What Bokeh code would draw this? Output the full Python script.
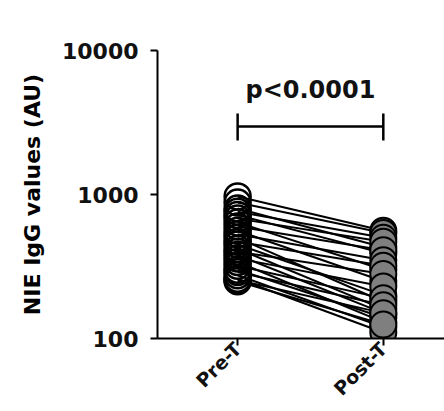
import numpy as np
from bokeh.plotting import figure
from bokeh.models import Range1d, FixedTicker, PrintfTickFormatter
from bokeh.models import Label
from bokeh.embed import file_html
from bokeh.resources import INLINE

groups = ["Pre-T", "Post-T"]
pre = [970, 880, 800, 760, 720, 680, 640, 600, 560, 530, 500, 470, 450, 420,
       400, 380, 360, 340, 320, 300, 290, 275, 260, 255, 250]
post = [560, 540, 430, 500, 390, 470, 300, 410, 250, 350, 180, 320, 200, 160,
        280, 150, 230, 130, 190, 140, 170, 120, 110, 150, 125]
y_ticks = [100, 1000, 10000]
p_text = "p<0.0001"
bracket_y = 2965
bracket_cap = (2371, 3650)
p_text_y = 4250

FONT = "DejaVu Sans"

p = figure(width=444, height=411, y_axis_type="log",
           x_range=Range1d(-0.55, 1.42), y_range=Range1d(100, 10000),
           output_backend="svg", toolbar_location=None,
           min_border_left=157, min_border_top=50, min_border_right=0,
           min_border_bottom=73)
p.outline_line_color = None
p.xgrid.visible = False
p.ygrid.visible = False
p.background_fill_color = "white"

# lines connecting pairs
xs = [[0, 1] for _ in pre]
ys = [[a, b] for a, b in zip(pre, post)]
p.multi_line(xs, ys, line_color="black", line_width=2)

p.scatter([0] * len(pre), pre, size=26, fill_color=None,
          line_color="black", line_width=2.5)
p.scatter([1] * len(post), post, size=26, fill_color="#7f7f7f",
          line_color="black", line_width=2)

# significance bracket
p.segment(x0=[0], y0=[bracket_y], x1=[1], y1=[bracket_y], line_color="black", line_width=2.5)
p.segment(x0=[0, 1], y0=[bracket_cap[0]] * 2, x1=[0, 1], y1=[bracket_cap[1]] * 2,
          line_color="black", line_width=2.5)
p.add_layout(Label(x=0.5, y=p_text_y, text=p_text, text_align="center",
                   text_baseline="bottom", text_font=FONT, text_font_style="bold",
                   text_font_size="24px", text_color="#111111"))

# axes
p.yaxis.ticker = FixedTicker(ticks=y_ticks, minor_ticks=[])
p.yaxis.formatter = PrintfTickFormatter(format="%d")
p.yaxis.axis_label = "NIE IgG values (AU)"
p.yaxis.axis_label_text_font = FONT
p.yaxis.axis_label_text_font_style = "bold"
p.yaxis.axis_label_text_font_size = "22px"
p.yaxis.axis_label_text_color = "black"
p.yaxis.axis_label_standoff = 14
p.yaxis.major_label_text_font = FONT
p.yaxis.major_label_text_font_style = "bold"
p.yaxis.major_label_text_font_size = "22px"
p.yaxis.major_label_text_color = "#111111"
p.yaxis.major_label_standoff = 12

p.xaxis.ticker = FixedTicker(ticks=[0, 1], minor_ticks=[])
p.xaxis.major_label_overrides = {0: groups[0], 1: groups[1]}
p.xaxis.major_label_orientation = np.pi / 4
p.xaxis.major_label_text_font = FONT
p.xaxis.major_label_text_font_style = "bold"
p.xaxis.major_label_text_font_size = "19px"
p.xaxis.major_label_text_color = "#111111"
p.xaxis.major_label_standoff = 0

for ax in (p.xaxis, p.yaxis):
    ax.axis_line_width = 2
    ax.axis_line_color = "black"
    ax.major_tick_line_width = 2
    ax.major_tick_line_color = "black"
    ax.major_tick_in = 0
    ax.major_tick_out = 7
    ax.minor_tick_line_color = None

open("out.html", "w").write(file_html(p, INLINE))
